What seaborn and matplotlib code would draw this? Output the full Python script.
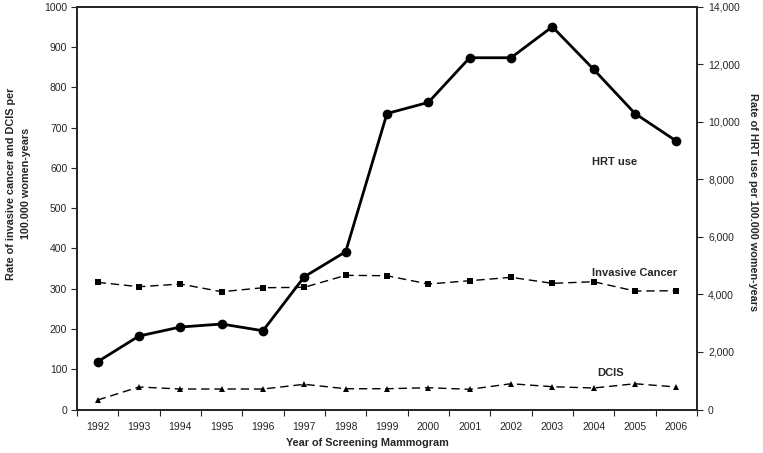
import numpy as np
import pandas as pd
import matplotlib
matplotlib.use("Agg")
import matplotlib.pyplot as plt
import matplotlib.ticker as mticker
import seaborn as sns

# Dados
anos = [1992, 1993, 1994, 1995, 1996, 1997, 1998, 1999, 2000, 2001, 2002, 2003, 2004, 2005, 2006]
hrt_uso = [1662, 2555, 2867, 2972, 2738, 4616, 5485, 10290, 10676, 12229, 12229, 13306, 11824, 10290, 9332]
cancer_invasivo = [315.8, 304.9, 311.6, 292.5, 302.4, 303.4, 333.2, 332.2, 311.6, 319.8, 328.2, 313.3, 317.3, 294.2, 294.9]
dcis = [23.6, 55.9, 50.9, 50.9, 50.9, 62.6, 51.6, 51.6, 54.1, 50.1, 64.0, 56.6, 53.4, 64.0, 55.9]

df = pd.DataFrame({'ano': anos, 'hrt': hrt_uso, 'invasivo': cancer_invasivo, 'dcis': dcis})

sns.set_style('white')
plt.rcParams['font.family'] = ['Liberation Sans', 'DejaVu Sans']

fig = plt.figure(figsize=(7.63, 4.53), dpi=100)
ax = fig.add_axes([0.1009, 0.096, 0.8126, 0.889])
ax2 = ax.twinx()

sns.lineplot(data=df, x='ano', y='invasivo', ax=ax, color='black', lw=1.0, marker='s',
             markersize=3.8, markeredgewidth=0, linestyle=(0, (6, 3.5)))
sns.lineplot(data=df, x='ano', y='dcis', ax=ax, color='black', lw=1.0, marker='^',
             markersize=5, markeredgewidth=0, linestyle=(0, (6, 3.5)))
sns.lineplot(data=df, x='ano', y='hrt', ax=ax2, color='black', lw=2.0, marker='o',
             markersize=7, markeredgewidth=0)

ax.set_xlim(1991.5, 2006.5)
ax.set_ylim(0, 1000)
ax2.set_ylim(0, 14000)

ax.set_xticks(anos)
ax.set_xticklabels([str(a) for a in anos])
ax.xaxis.set_minor_locator(mticker.FixedLocator(np.arange(1991.5, 2007, 1)))
ax.tick_params(axis='x', which='major', length=0, pad=9, labelsize=7.5)
ax.tick_params(axis='x', which='minor', length=4, width=0.8, direction='out', bottom=True)
ax.set_yticks(np.arange(0, 1001, 100))
ax.tick_params(axis='y', length=4, width=0.8, direction='out', left=True, labelsize=7.5, pad=3)

ax2.set_yticks(np.arange(0, 14001, 2000))
ax2.yaxis.set_major_formatter(mticker.FuncFormatter(lambda v, p: f'{int(v):,}'))
ax2.tick_params(axis='y', length=4, width=0.8, direction='out', right=True, labelsize=7.5, pad=4)

for a in (ax, ax2):
    for s in a.spines.values():
        s.set_color('#222222')
        s.set_linewidth(1.2)

ax.set_xlabel('Year of Screening Mammogram', fontsize=7.8, fontweight='bold')
ax.set_ylabel('Rate of invasive cancer and DCIS per\n100.000 women-years', fontsize=7.8,
              fontweight='bold', linespacing=1.6)
ax2.set_ylabel('Rate of HRT use per 100.000 women-years', fontsize=7.8, fontweight='bold',
               rotation=270, va='center')
ax.xaxis.set_label_coords(0.469, -0.071)
ax.yaxis.set_label_coords(-0.074, 0.561)
ax2.yaxis.set_label_coords(1.090, 0.515)

# Rótulos das séries
ax.text(2004.5, 614, 'HRT use', fontsize=8, fontweight='bold', ha='center', va='center')
ax.text(2005.0, 338, 'Invasive Cancer', fontsize=8, fontweight='bold', ha='center', va='center')
ax.text(2004.4, 91, 'DCIS', fontsize=8, fontweight='bold', ha='center', va='center')

plt.savefig('out.png', dpi=100)
plt.close()
